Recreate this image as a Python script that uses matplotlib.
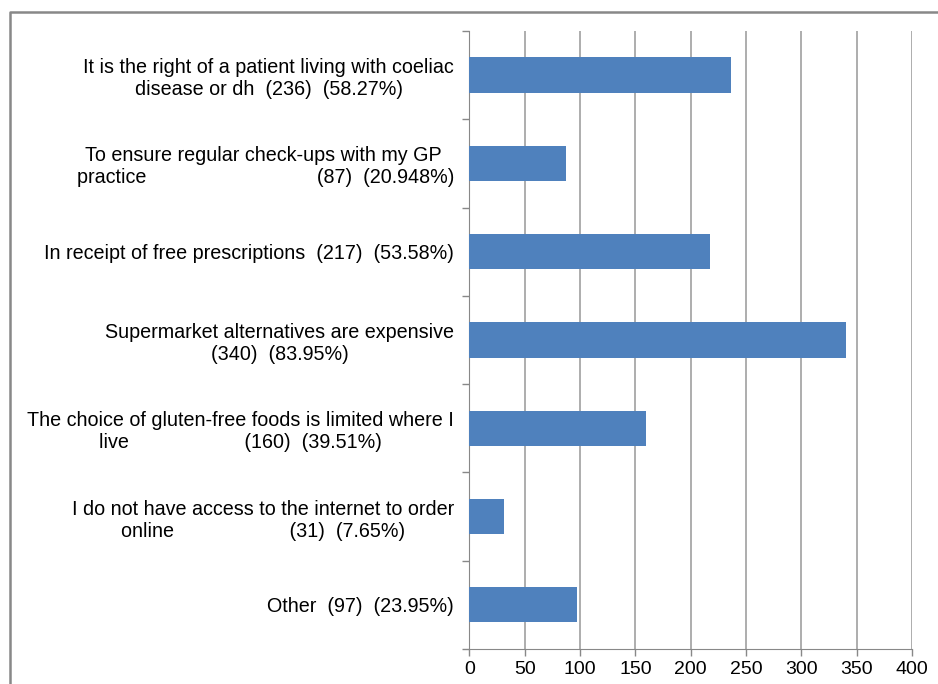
import matplotlib.pyplot as plt
from matplotlib.lines import Line2D

plt.rcParams['font.family'] = ['Liberation Sans', 'DejaVu Sans']

# Data
labels = [
    "It is the right of a patient living with coeliac\ndisease or dh  (236)  (58.27%)",
    "To ensure regular check-ups with my GP \npractice                               (87)  (20.948%)",
    "In receipt of free prescriptions  (217)  (53.58%)",
    "Supermarket alternatives are expensive\n(340)  (83.95%)",
    "The choice of gluten-free foods is limited where I\nlive                     (160)  (39.51%)",
    "I do not have access to the internet to order\nonline                     (31)  (7.65%)",
    "Other  (97)  (23.95%)",
]
counts = [236, 87, 217, 340, 160, 31, 97]
xticks = [0, 50, 100, 150, 200, 250, 300, 350, 400]

fig = plt.figure(figsize=(9.38, 6.84), dpi=100)
ax = fig.add_axes([0.5005, 0.0512, 0.4718, 0.9035])

ypos = list(range(len(counts)))
ax.barh(ypos, counts, height=0.4, color='#4F81BD', zorder=3)
ax.set_ylim(len(counts) - 0.5, -0.5)
ax.set_xlim(0, 400)

ax.set_xticks(xticks)
ax.set_yticks(ypos)
ax.set_yticklabels(labels, multialignment='center', fontsize=14.2, linespacing=1.2)
ax.tick_params(axis='y', length=0, pad=11)
ax.set_yticks([i - 0.5 for i in range(len(counts) + 1)], minor=True)
ax.tick_params(axis='y', which='minor', length=5, color='#888888', width=1)
ax.tick_params(axis='x', labelsize=14, length=5, color='#888888', width=1)

ax.grid(axis='x', color='#a0a0a0', linewidth=1.2, zorder=0)
for s in ['top', 'right']:
    ax.spines[s].set_visible(False)
for s in ['left', 'bottom']:
    ax.spines[s].set_color('#888888')

# outer chart frame (top and left edges visible)
fig.add_artist(Line2D([10 / 938, 10 / 938, 1.0], [0.0, 1 - 12 / 684, 1 - 12 / 684],
                      transform=fig.transFigure, color='#888888', linewidth=1.8))

fig.savefig('out.png', dpi=100)
